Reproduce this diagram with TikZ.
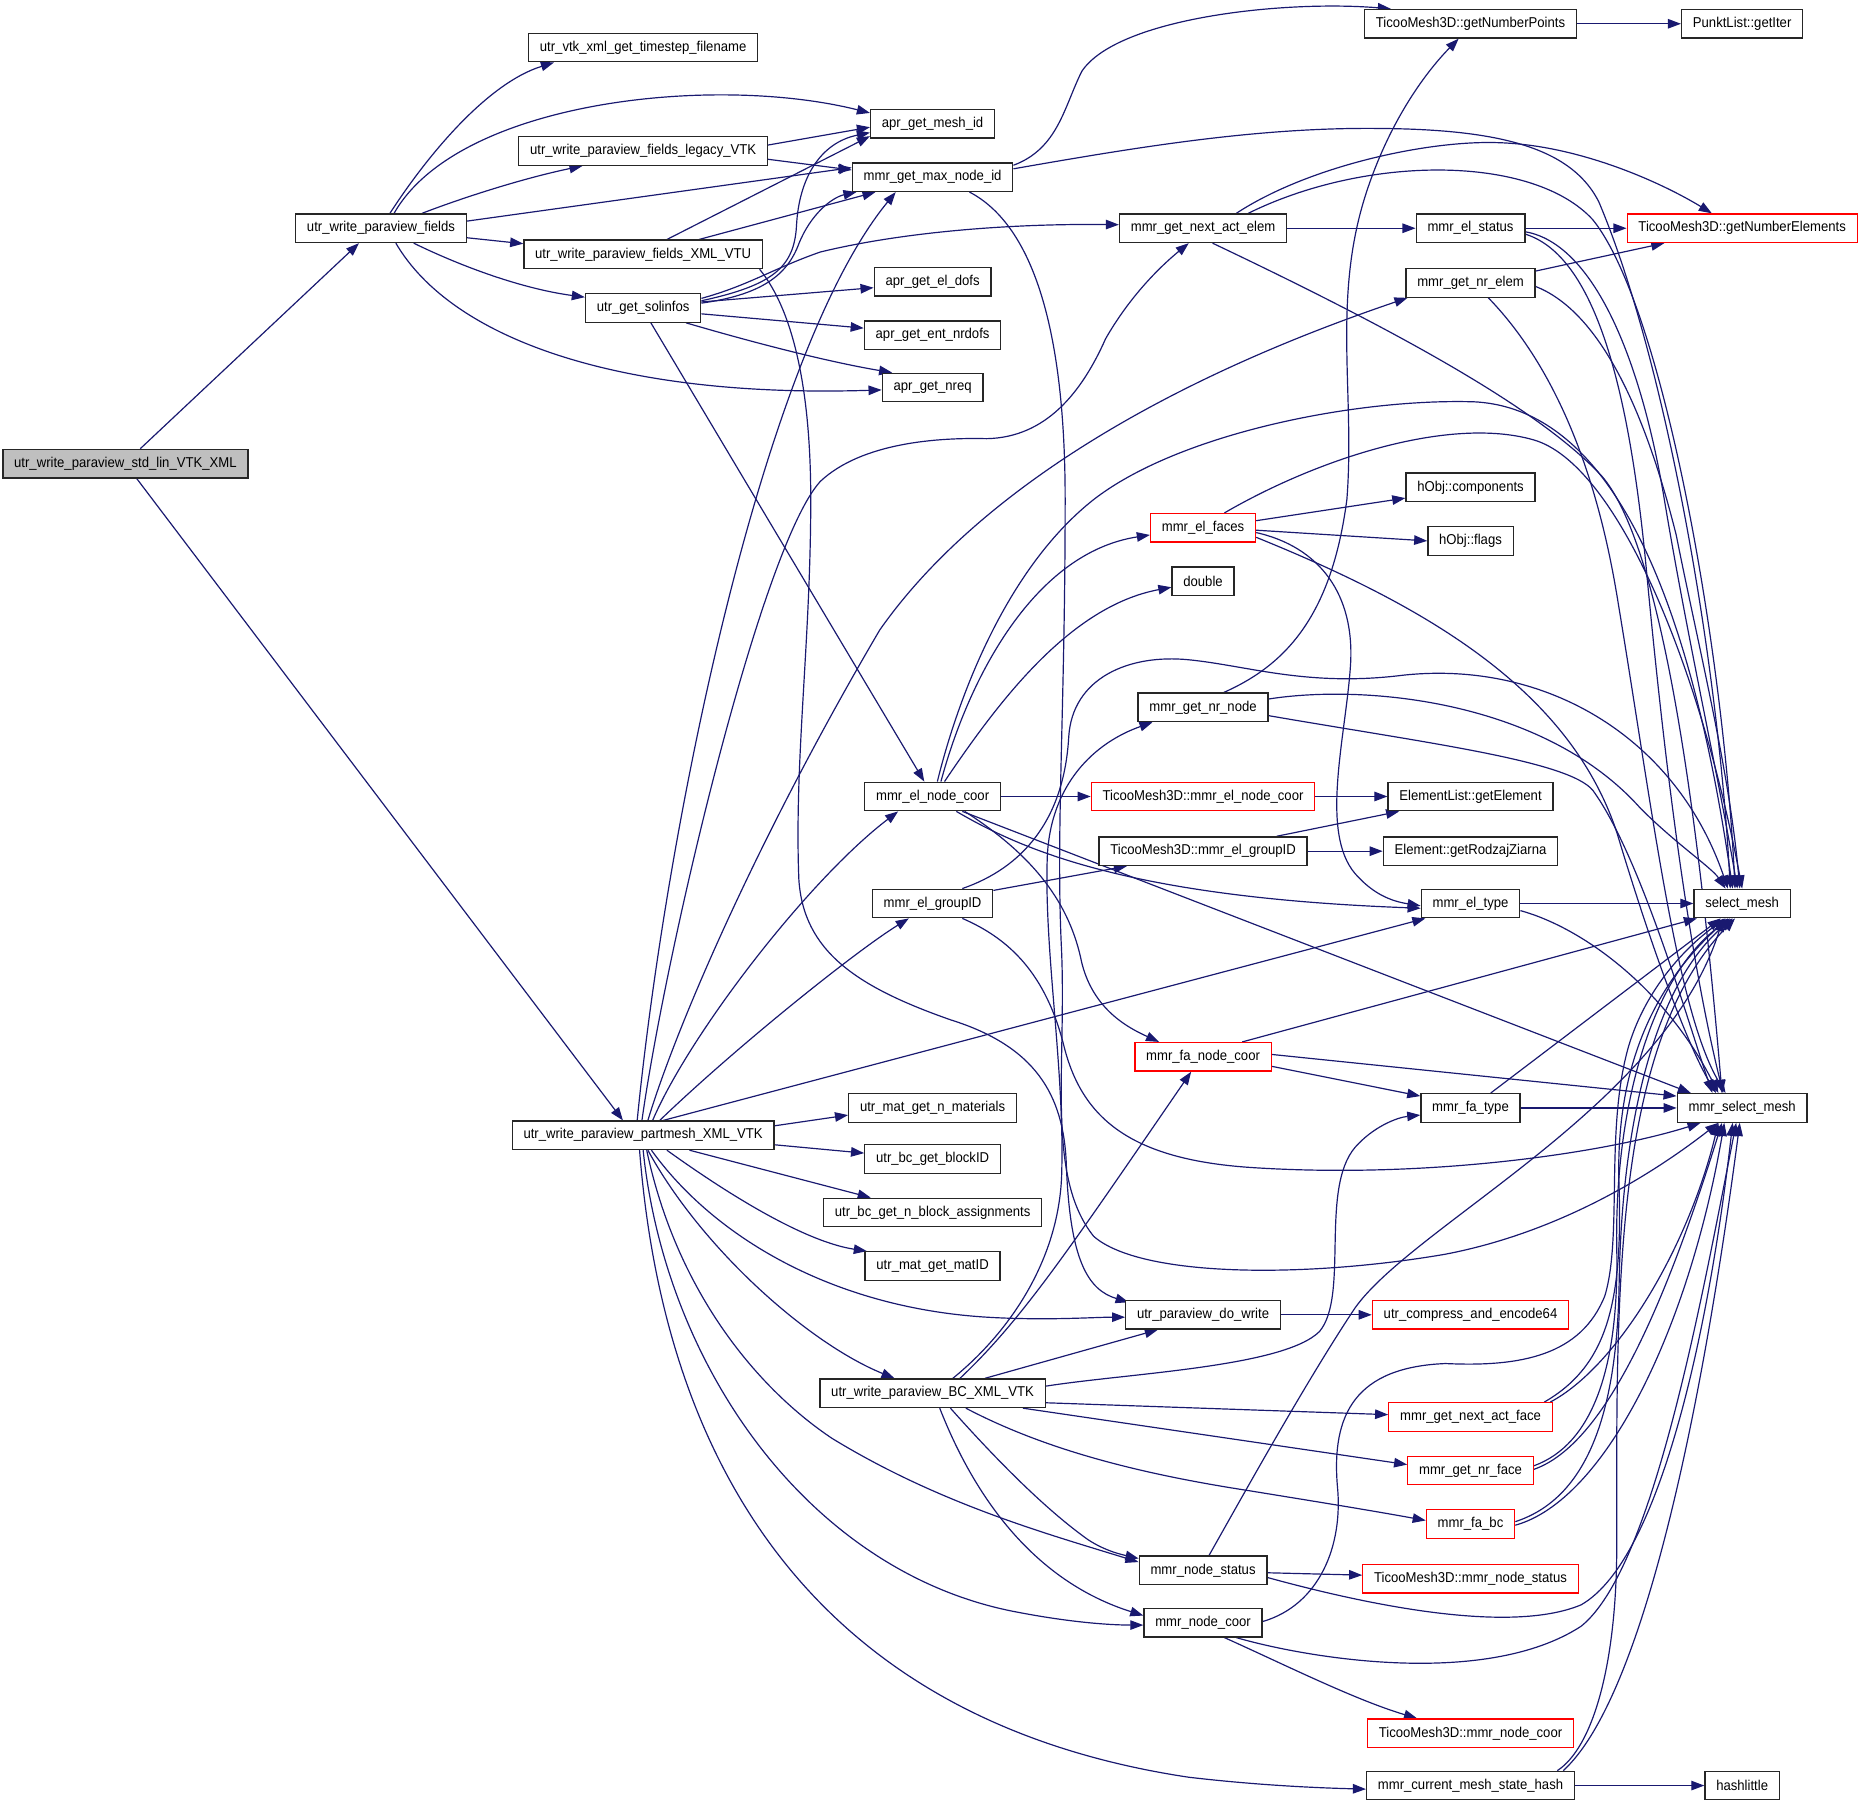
\documentclass[tikz,border=0pt]{standalone}
\usepackage{fontspec}
\setmainfont{Liberation Sans}[FakeStretch=0.92]
\usetikzlibrary{arrows.meta,backgrounds}
\definecolor{edgecol}{RGB}{25,25,112}
\definecolor{boxgray}{RGB}{191,191,191}
\definecolor{boxred}{RGB}{255,0,0}
\tikzset{
  fn/.style={draw=black!85, line width=1.1pt, minimum height=24pt, inner xsep=9.5pt, inner ysep=0pt, fill=white, font=\fontsize{12pt}{14pt}\selectfont},
  fnred/.style={fn, draw=boxred},
  fngray/.style={fn, fill=boxgray},
  edg/.style={draw=edgecol, line width=1pt, -{Triangle[length=11pt,width=8pt]}}
}
\begin{document}
\begin{tikzpicture}[x=1pt,y=-1pt]
\useasboundingbox (0,0) rectangle (1568,1520);
% nodes (columns: 105.5, 320.5, 541, 784.5, 1012, 1237, 1465.5)
\node[fngray] (std) at (105.5,390) {utr\_write\_paraview\_std\_lin\_VTK\_XML};
\node[fn] (fields) at (320.5,192) {utr\_write\_paraview\_fields};
\node[fn] (ts) at (541,40) {utr\_vtk\_xml\_get\_timestep\_filename};
\node[fn] (meshid) at (784.5,104) {apr\_get\_mesh\_id};
\node[fn] (legacy) at (541,127) {utr\_write\_paraview\_fields\_legacy\_VTK};
\node[fn] (maxnode) at (784.5,149) {mmr\_get\_max\_node\_id};
\node[fn] (vtu) at (541,214) {utr\_write\_paraview\_fields\_XML\_VTU};
\node[fn] (solinfos) at (541,259) {utr\_get\_solinfos};
\node[fn] (eldofs) at (784.5,237) {apr\_get\_el\_dofs};
\node[fn] (entnrdofs) at (784.5,282) {apr\_get\_ent\_nrdofs};
\node[fn] (nreq) at (784.5,326) {apr\_get\_nreq};
\node[fn] (nextelem) at (1012,192) {mmr\_get\_next\_act\_elem};
\node[fn] (npoints) at (1237,20) {TicooMesh3D::getNumberPoints};
\node[fn] (getiter) at (1465.5,20) {PunktList::getIter};
\node[fn] (elstatus) at (1237,192) {mmr\_el\_status};
\node[fnred] (nelems) at (1465.5,192) {TicooMesh3D::getNumberElements};
\node[fn] (nrelem) at (1237,238) {mmr\_get\_nr\_elem};
\node[fn] (comps) at (1237,410) {hObj::components};
\node[fnred] (elfaces) at (1012,444) {mmr\_el\_faces};
\node[fn] (flags) at (1237,455) {hObj::flags};
\node[fn] (ndouble) at (1012,489) {double};
\node[fn] (nrnode) at (1012,595) {mmr\_get\_nr\_node};
\node[fn] (elnodecoor) at (784.5,670) {mmr\_el\_node\_coor};
\node[fnred] (telnodecoor) at (1012,670) {TicooMesh3D::mmr\_el\_node\_coor};
\node[fn] (getelement) at (1237,670) {ElementList::getElement};
\node[fn] (tgroup) at (1012,716) {TicooMesh3D::mmr\_el\_groupID};
\node[fn] (rodzaj) at (1237,716) {Element::getRodzajZiarna};
\node[fn] (groupid) at (784.5,760) {mmr\_el\_groupID};
\node[fn] (eltype) at (1237,760) {mmr\_el\_type};
\node[fn] (selmesh) at (1465.5,760) {select\_mesh};
\node[fnred] (fanodecoor) at (1012,889) {mmr\_fa\_node\_coor};
\node[fn] (fatype) at (1237,932) {mmr\_fa\_type};
\node[fn] (mmrsel) at (1465.5,932) {mmr\_select\_mesh};
\node[fn] (partmesh) at (541,955) {utr\_write\_paraview\_partmesh\_XML\_VTK};
\node[fn] (nmat) at (784.5,932) {utr\_mat\_get\_n\_materials};
\node[fn] (blockid) at (784.5,975) {utr\_bc\_get\_blockID};
\node[fn] (nblock) at (784.5,1020) {utr\_bc\_get\_n\_block\_assignments};
\node[fn] (matid) at (784.5,1065) {utr\_mat\_get\_matID};
\node[fn] (dowrite) at (1012,1106) {utr\_paraview\_do\_write};
\node[fnred] (compress) at (1237,1106) {utr\_compress\_and\_encode64};
\node[fn] (bc) at (784.5,1172) {utr\_write\_paraview\_BC\_XML\_VTK};
\node[fnred] (nextface) at (1237,1192) {mmr\_get\_next\_act\_face};
\node[fnred] (nrface) at (1237,1237) {mmr\_get\_nr\_face};
\node[fnred] (fabc) at (1237,1282) {mmr\_fa\_bc};
\node[fn] (nodestatus) at (1012,1321) {mmr\_node\_status};
\node[fnred] (tnodestatus) at (1237,1328) {TicooMesh3D::mmr\_node\_status};
\node[fn] (nodecoor) at (1012,1365) {mmr\_node\_coor};
\node[fnred] (tnodecoor) at (1237,1458) {TicooMesh3D::mmr\_node\_coor};
\node[fn] (hash) at (1237,1502) {mmr\_current\_mesh\_state\_hash};
\node[fn] (hashlittle) at (1465.5,1502) {hashlittle};

\begin{pgfonlayer}{background}
\fill[white] (0,0) rectangle (1568,1520);
% std_lin
\draw[edg] ([xshift=12.5pt]std.north) -- ([xshift=-18.5pt]fields.south);
\draw[edg] ([xshift=9.5pt]std.south) -- ([xshift=-17pt]partmesh.north);
% fields
\draw[edg] ([xshift=7.5pt]fields.north) .. controls (360,130) and (410,70) .. ([xshift=-75pt]ts.south);
\draw[edg] ([xshift=11pt]fields.north) .. controls (385,85) and (600,62) .. ([yshift=9pt]meshid.west);
\draw[edg] ([xshift=34.5pt]fields.north) .. controls (390,166) and (440,150) .. ([xshift=-51pt]legacy.south);
\draw[edg] ([yshift=6pt]fields.east) -- ([yshift=8pt]maxnode.west);
\draw[edg] ([yshift=-8pt]fields.east) -- ([yshift=9pt]vtu.west);
\draw[edg] ([xshift=27.5pt]fields.south) .. controls (390,225) and (440,243) .. ([yshift=9pt]solinfos.west);
\draw[edg] ([xshift=12.5pt]fields.south) .. controls (380,285) and (520,335) .. ([yshift=-2pt]nreq.west);
% legacy
\draw[edg] ([yshift=5pt]legacy.east) -- ([yshift=-3pt]meshid.west);
\draw[edg] ([yshift=-7pt]legacy.east) -- ([yshift=6pt]maxnode.west);
% vtu
\draw[edg] ([xshift=20pt]vtu.north) -- ([yshift=2pt]meshid.south west);
\draw[edg] ([xshift=47pt]vtu.north) -- ([xshift=-48pt]maxnode.south);
\draw[edg] ([xshift=98pt]vtu.south) .. controls (668,262) and (682,330) .. (682,420) .. controls (682,540) and (668,640) .. (672,740) .. controls (676,800) and (720,830) .. (800,858) .. controls (870,880) and (895,920) .. (897,980) .. controls (900,1060) and (915,1085) .. ([xshift=3pt,yshift=-2pt]dowrite.north west);
% solinfos
\draw[edg] ([yshift=6pt]solinfos.east) .. controls (650,240) and (668,225) .. (670,190) .. controls (672,150) and (690,120) .. ([yshift=5pt]meshid.south west);
\draw[edg] ([yshift=4pt]solinfos.east) .. controls (640,248) and (662,232) .. (672,205) .. controls (682,180) and (700,166) .. ([xshift=-64pt]maxnode.south);
\draw[edg] ([yshift=8pt]solinfos.east) .. controls (630,240) and (650,226) .. (690,212) .. controls (760,195) and (850,188) .. ([yshift=3pt]nextelem.west);
\draw[edg] ([yshift=5pt]solinfos.east) -- ([yshift=-5pt]eldofs.west);
\draw[edg] ([yshift=-5pt]solinfos.east) -- ([yshift=6pt]entnrdofs.west);
\draw[edg] ([xshift=36pt]solinfos.south) .. controls (640,290) and (700,305) .. ([xshift=-34pt]nreq.north);
\draw[edg] ([xshift=6.5pt]solinfos.south) -- ([xshift=-7pt]elnodecoor.north);
% maxnode
\draw[edg] ([yshift=10pt]maxnode.east) .. controls (890,125) and (895,90) .. (910,60) .. controls (940,15) and (1080,0) .. ([xshift=-67pt]npoints.north);
\draw[edg] ([yshift=7pt]maxnode.east) .. controls (950,125) and (1050,108) .. (1150,108) .. controls (1250,108) and (1320,120) .. (1345,170) .. controls (1400,300) and (1445,550) .. ([xshift=-10pt]selmesh.north);
\draw[edg] ([xshift=31pt]maxnode.south) .. controls (870,190) and (896,280) .. (896,420) .. controls (896,600) and (888,700) .. (893,800) .. controls (897,900) and (880,990) .. (920,1040) .. controls (960,1075) and (1100,1075) .. (1216,1055) .. controls (1320,1035) and (1400,980) .. ([xshift=-20pt]mmrsel.south);
% nextelem
\draw[edg] (nextelem) -- (elstatus);
\draw[edg] ([xshift=28pt]nextelem.north) .. controls (1100,140) and (1200,118) .. (1260,120) .. controls (1330,122) and (1400,155) .. ([xshift=-25.5pt]nelems.north);
\draw[edg] ([xshift=38pt]nextelem.north) .. controls (1150,130) and (1290,130) .. (1340,185) .. controls (1400,260) and (1450,550) .. ([xshift=-6pt]selmesh.north);
\draw[edg] ([xshift=8pt]nextelem.south) .. controls (1200,290) and (1300,350) .. (1347,400) .. controls (1400,460) and (1430,700) .. ([xshift=-17pt]mmrsel.north);
% elstatus
\draw[edg] (elstatus) -- (nelems);
\draw[edg] ([yshift=-3pt]elstatus.east) .. controls (1340,205) and (1380,300) .. (1400,420) .. controls (1420,540) and (1445,650) .. ([xshift=-4pt]selmesh.north);
\draw[edg] ([yshift=-5pt]elstatus.east) .. controls (1340,215) and (1370,320) .. (1385,480) .. controls (1400,640) and (1420,800) .. ([xshift=-16pt]mmrsel.north);
% nrelem
\draw[edg] ([yshift=10pt]nrelem.east) -- ([xshift=-65.5pt]nelems.south);
\draw[edg] ([yshift=-3pt]nrelem.east) .. controls (1340,260) and (1380,330) .. (1410,450) .. controls (1430,550) and (1455,650) .. ([xshift=-2pt]selmesh.north);
\draw[edg] ([xshift=15pt]nrelem.south) .. controls (1300,300) and (1340,380) .. (1360,500) .. controls (1390,680) and (1410,850) .. ([xshift=-14pt]mmrsel.north);
% elfaces
\draw[edg] ([yshift=6pt]elfaces.east) -- ([yshift=-9pt]comps.west);
\draw[edg] ([yshift=-2pt]elfaces.east) -- (flags.west);
\draw[edg] ([xshift=18pt]elfaces.north) .. controls (1110,385) and (1220,350) .. (1290,370) .. controls (1360,390) and (1430,560) .. (selmesh.north);
\draw[edg] ([yshift=-4pt]elfaces.east) .. controls (1110,460) and (1140,500) .. (1136,560) .. controls (1132,620) and (1110,700) .. (1140,735) .. controls (1155,752) and (1170,758) .. ([yshift=-2pt]eltype.west);
\draw[edg] ([yshift=-8pt]elfaces.east) .. controls (1200,510) and (1320,580) .. (1360,700) .. controls (1390,800) and (1420,880) .. ([xshift=-22pt]mmrsel.north);
% elnodecoor
\draw[edg] ([xshift=7pt]elnodecoor.north) .. controls (815,570) and (870,465) .. ([yshift=-6pt]elfaces.west);
\draw[edg] ([xshift=10pt]elnodecoor.north) .. controls (840,590) and (900,510) .. ([yshift=-5pt]ndouble.west);
\draw[edg] ([xshift=4pt]elnodecoor.north) .. controls (805,590) and (845,480) .. (919,421) .. controls (990,365) and (1140,335) .. (1240,338) .. controls (1320,342) and (1410,420) .. ([xshift=-8pt]selmesh.north);
\draw[edg] (elnodecoor) -- (telnodecoor);
\draw[edg] ([xshift=20pt]elnodecoor.south) .. controls (860,715) and (950,755) .. ([yshift=-4pt]eltype.west);
\draw[edg] ([xshift=25pt]elnodecoor.south) -- ([xshift=12pt]mmrsel.north west);
\draw[edg] ([xshift=27pt]elnodecoor.south) .. controls (870,720) and (900,760) .. (910,810) .. controls (920,850) and (950,865) .. ([xshift=-37pt]fanodecoor.north);
% groupid
\draw[edg] ([yshift=11pt]groupid.east) -- ([xshift=-64pt]tgroup.south);
\draw[edg] ([xshift=25pt]groupid.north) .. controls (860,730) and (895,690) .. (899,620) .. controls (902,570) and (950,550) .. (1000,555) .. controls (1050,560) and (1100,578) .. (1180,568) .. controls (1300,555) and (1410,620) .. ([xshift=-12pt]selmesh.north);
\draw[edg] ([xshift=25pt]groupid.south) .. controls (850,790) and (880,820) .. (895,880) .. controls (910,940) and (950,975) .. (1051,982) .. controls (1200,992) and (1350,970) .. ([xshift=-35pt]mmrsel.south);
% bc
\draw[edg] ([xshift=17pt]bc.north) .. controls (850,1120) and (890,1060) .. (893,990) .. controls (896,900) and (878,800) .. (881,720) .. controls (884,660) and (920,625) .. ([xshift=-42.5pt]nrnode.south);
\draw[edg] ([xshift=23pt]bc.north) .. controls (860,1110) and (900,1050) .. ([xshift=-10pt]fanodecoor.south);
\draw[edg] ([xshift=44pt]bc.north) -- ([xshift=-38pt]dowrite.south);
\draw[edg] ([yshift=6pt]bc.east) .. controls (950,1155) and (1080,1150) .. (1110,1120) .. controls (1135,1090) and (1110,1000) .. (1140,965) .. controls (1155,948) and (1175,940) .. ([yshift=-6pt]fatype.west);
\draw[edg] ([yshift=-8pt]bc.east) -- ([yshift=2pt]nextface.west);
\draw[edg] ([xshift=76pt]bc.south) -- ([yshift=5pt]nrface.west);
\draw[edg] ([xshift=28pt]bc.south) .. controls (880,1220) and (960,1240) .. (1051,1254) .. controls (1100,1262) and (1150,1270) .. ([yshift=3pt]fabc.west);
\draw[edg] ([xshift=15pt]bc.south) .. controls (840,1230) and (880,1270) .. (915,1295) .. controls (930,1305) and (945,1308) .. ([yshift=10pt]nodestatus.west);
\draw[edg] ([xshift=6pt]bc.south) .. controls (820,1260) and (870,1330) .. ([yshift=6pt]nodecoor.west);
% partmesh
\draw[edg] ([xshift=-5pt]partmesh.north) .. controls (560,700) and (640,300) .. ([xshift=-31pt]maxnode.south);
\draw[edg] ([xshift=-1pt]partmesh.north) .. controls (560,800) and (640,460) .. (690,405) .. controls (725,372) and (790,368) .. (830,369) .. controls (880,368) and (910,330) .. (930,285) .. controls (950,250) and (975,225) .. ([xshift=-12pt]nextelem.south);
\draw[edg] ([xshift=4pt]partmesh.north) .. controls (570,860) and (640,700) .. (740,530) .. controls (810,430) and (950,330) .. ([xshift=-53pt]nrelem.south);
\draw[edg] ([xshift=8pt]partmesh.north) .. controls (580,870) and (680,740) .. ([xshift=-29pt]elnodecoor.south);
\draw[edg] ([xshift=14pt]partmesh.north) .. controls (620,880) and (720,800) .. ([xshift=-20pt]groupid.south);
\draw[edg] ([xshift=17pt]partmesh.north) -- ([xshift=4pt]eltype.south west);
\draw[edg] ([yshift=8pt]partmesh.east) -- ([yshift=-6pt]nmat.west);
\draw[edg] ([yshift=-8pt]partmesh.east) -- ([yshift=5pt]blockid.west);
\draw[edg] ([xshift=39pt]partmesh.south) -- ([xshift=-52pt]nblock.north);
\draw[edg] ([xshift=20pt]partmesh.south) .. controls (620,1010) and (680,1045) .. ([xshift=2pt]matid.north west);
\draw[edg] ([xshift=7pt]partmesh.south) .. controls (600,1040) and (700,1100) .. (830,1108) .. controls (880,1111) and (920,1108) .. ([yshift=-2pt]dowrite.west);
\draw[edg] ([xshift=4pt]partmesh.south) .. controls (590,1050) and (680,1130) .. ([xshift=-32pt]bc.north);
\draw[edg] ([xshift=3pt]partmesh.south) .. controls (570,1090) and (640,1170) .. (700,1210) .. controls (790,1265) and (880,1290) .. ([yshift=7pt]nodestatus.west);
\draw[edg] (partmesh.south) .. controls (560,1150) and (680,1320) .. (850,1355) .. controls (900,1365) and (935,1367) .. ([yshift=-2pt]nodecoor.west);
\draw[edg] ([xshift=-3pt]partmesh.south) .. controls (560,1250) and (700,1450) .. (1000,1495) .. controls (1060,1502) and (1110,1504) .. ([yshift=-3pt]hash.west);
% right side
\draw[edg] (npoints) -- (getiter);
\draw[edg] ([xshift=17.5pt]nrnode.north) .. controls (1080,560) and (1120,520) .. (1133,420) .. controls (1140,330) and (1120,250) .. (1150,160) .. controls (1170,100) and (1200,60) .. ([xshift=-10pt]npoints.south);
\draw[edg] ([yshift=7pt]nrnode.east) .. controls (1150,575) and (1300,590) .. (1380,680) .. controls (1410,710) and (1440,730) .. ([xshift=-14pt]selmesh.north);
\draw[edg] ([yshift=-7pt]nrnode.east) .. controls (1200,625) and (1320,640) .. (1340,665) .. controls (1380,720) and (1420,860) .. ([xshift=-25pt]mmrsel.north);
\draw[edg] (telnodecoor) -- (getelement);
\draw[edg] ([xshift=62pt]tgroup.north) -- ([xshift=-60pt]getelement.south);
\draw[edg] (tgroup) -- (rodzaj);
\draw[edg] (eltype) -- (selmesh);
\draw[edg] ([yshift=-6pt]eltype.east) .. controls (1330,780) and (1400,830) .. ([xshift=-20pt]mmrsel.north);
\draw[edg] ([xshift=33pt]fanodecoor.north) -- ([xshift=3pt]selmesh.south west);
\draw[edg] ([yshift=2pt]fanodecoor.east) -- ([yshift=10pt]mmrsel.west);
\draw[edg] ([yshift=-8pt]fanodecoor.east) -- ([yshift=10pt]fatype.west);
\draw[edg] ([xshift=17pt]fatype.north) -- ([xshift=-18pt]selmesh.south);
\draw[edg] (fatype) -- (mmrsel);
\draw[edg] (dowrite) -- (compress);
\draw[edg] ([xshift=62pt]nextface.north) .. controls (1350,1150) and (1365,1100) .. (1362,1000) .. controls (1358,900) and (1390,830) .. ([xshift=-12pt]selmesh.south);
\draw[edg] ([xshift=67pt]nextface.north) .. controls (1360,1150) and (1420,1050) .. ([xshift=-20pt]mmrsel.south);
\draw[edg] ([yshift=4pt]nrface.east) .. controls (1340,1215) and (1362,1150) .. (1360,1050) .. controls (1358,930) and (1390,820) .. ([xshift=-10pt]selmesh.south);
\draw[edg] ([yshift=1pt]nrface.east) .. controls (1350,1215) and (1400,1100) .. ([xshift=-17pt]mmrsel.south);
\draw[edg] ([yshift=2pt]fabc.east) .. controls (1330,1262) and (1360,1200) .. (1362,1080) .. controls (1364,950) and (1390,830) .. ([xshift=-8pt]selmesh.south);
\draw[edg] ([yshift=-1pt]fabc.east) .. controls (1350,1262) and (1420,1120) .. ([xshift=-15pt]mmrsel.south);
\draw[edg] ([yshift=-2pt]nodestatus.east) -- ([yshift=3pt]tnodestatus.west);
\draw[edg] ([xshift=5pt]nodestatus.north) .. controls (1050,1250) and (1100,1160) .. (1140,1100) .. controls (1190,1030) and (1400,930) .. ([xshift=-16pt]selmesh.south);
\draw[edg] ([yshift=-6pt]nodestatus.east) .. controls (1150,1350) and (1270,1375) .. (1330,1350) .. controls (1400,1310) and (1440,1100) .. ([xshift=-8pt]mmrsel.south);
\draw[edg] ([xshift=18pt]nodecoor.south) .. controls (1080,1400) and (1140,1430) .. ([xshift=-45pt]tnodecoor.north);
\draw[edg] ([yshift=1pt]nodecoor.east) .. controls (1110,1350) and (1130,1300) .. (1125,1250) .. controls (1120,1190) and (1140,1150) .. (1216,1147) .. controls (1280,1150) and (1330,1140) .. (1350,1090) .. controls (1365,1040) and (1350,950) .. (1370,880) .. controls (1385,830) and (1420,795) .. ([xshift=-14pt]selmesh.south);
\draw[edg] ([xshift=28pt]nodecoor.south) .. controls (1100,1395) and (1250,1420) .. (1330,1368) .. controls (1390,1320) and (1430,1100) .. ([xshift=-5pt]mmrsel.south);
\draw[edg] (hash) -- (hashlittle);
\draw[edg] ([xshift=73pt]hash.north) .. controls (1340,1470) and (1360,1400) .. (1360,1300) .. controls (1360,1100) and (1355,880) .. ([xshift=-6pt]selmesh.south);
\draw[edg] ([xshift=78pt]hash.north) .. controls (1380,1430) and (1430,1200) .. ([xshift=-2pt]mmrsel.south);
\end{pgfonlayer}
\end{tikzpicture}
\end{document}
